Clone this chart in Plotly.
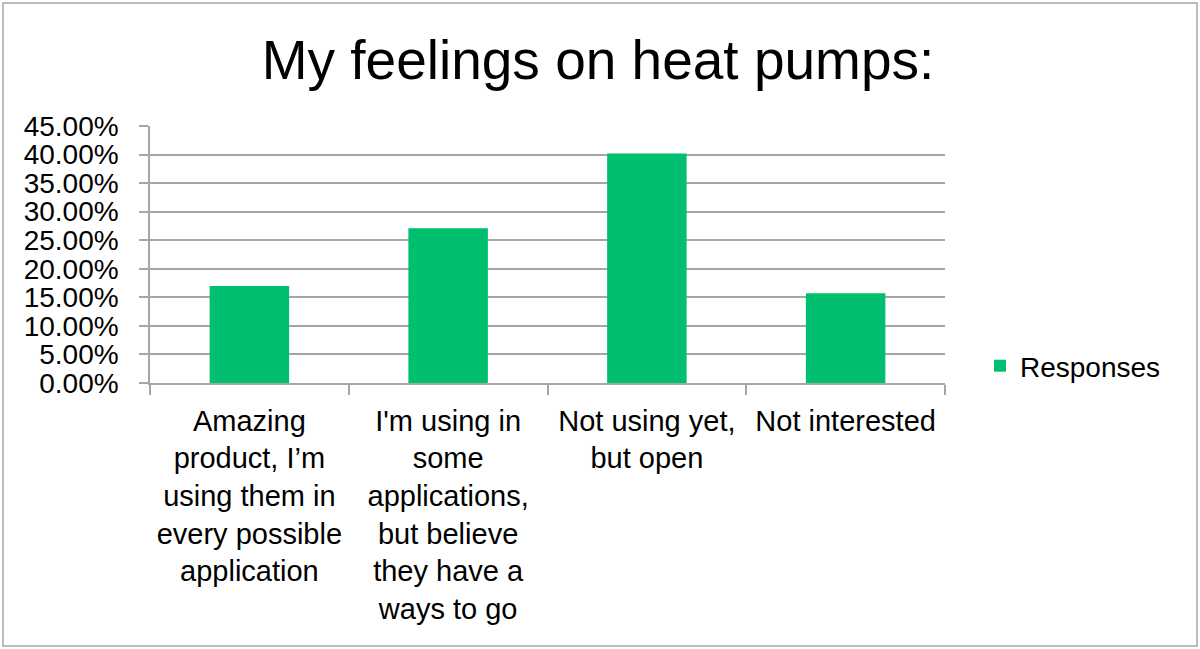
import plotly.graph_objects as go

categories = [
    "Amazing<br>product, I’m<br>using them in<br>every possible<br>application",
    "I'm using in<br>some<br>applications,<br>but believe<br>they have a<br>ways to go",
    "Not using yet,<br>but open",
    "Not interested",
]
values = [0.170, 0.271, 0.402, 0.157]
series_name = "Responses"
title_text = "My feelings on heat pumps:"

W, H = 1200, 649
ML, MR, MT, MB = 150, 255, 126, 266
pw, ph = W - ML - MR, H - MT - MB

fig = go.Figure()
fig.add_trace(go.Bar(
    x=categories, y=values, name=series_name,
    marker=dict(color="#00BF6F", line=dict(width=0)),
    showlegend=True,
))

font_family = "Liberation Sans, Arial, sans-serif"

fig.update_layout(
    width=W, height=H,
    margin=dict(l=ML, r=MR, t=MT, b=MB, autoexpand=False),
    paper_bgcolor="white", plot_bgcolor="white",
    bargap=0.6,
    font=dict(family=font_family, color="black"),
    title=dict(text=title_text, x=(598 - ML) / pw, xref="paper", xanchor="center",
               y=1 - 60 / H, yanchor="middle",
               font=dict(size=55, family=font_family, color="black")),
    legend=dict(x=(980 - ML) / pw, xanchor="left", y=(383 - 366) / ph, yanchor="middle",
                font=dict(size=28, family=font_family, color="black"),
                itemsizing="constant", bgcolor="rgba(0,0,0,0)"),
    xaxis=dict(
        type="category",
        showline=True, linecolor="#a6a6a6", linewidth=1.5,
        ticks="outside", tickson="boundaries", ticklen=10, tickcolor="#a6a6a6", tickwidth=1.5,
        tickfont=dict(size=29, family=font_family, color="black"),
        tickangle=0,
        ticklabelstandoff=11,
        showgrid=False,
    ),
    yaxis=dict(
        range=[0, 0.45], dtick=0.05, tickformat=".2%",
        showline=True, linecolor="#a6a6a6", linewidth=1.5,
        ticks="outside", ticklen=9, tickcolor="#a6a6a6", tickwidth=1.5,
        showgrid=True, gridcolor="#a6a6a6", gridwidth=1.5,
        tickfont=dict(size=28, family=font_family, color="black"),
        ticklabelstandoff=15,
        zeroline=False,
    ),
)

# outer chart border
fig.add_shape(type="rect", xref="paper", yref="paper",
              x0=(3 - ML) / pw, x1=(1197 - ML) / pw,
              y0=(H - MB - 646) / ph, y1=(H - MB - 3) / ph,
              line=dict(color="#a6a6a6", width=1.5), fillcolor="rgba(0,0,0,0)", layer="below")

fig.write_html("out.html", config={"displayModeBar": False},
               post_script="document.body.style.margin='0';document.body.style.overflow='hidden';")
